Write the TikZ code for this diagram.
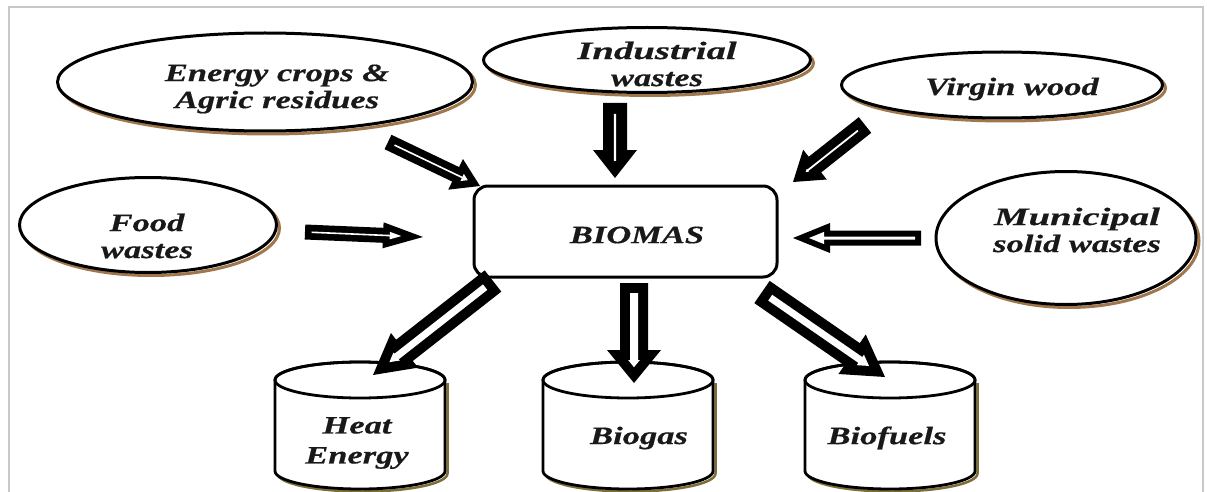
\documentclass[tikz,border=0pt]{standalone}
\usepackage{fontspec}
\newfontfamily\labfont[FakeStretch=1.38,FakeBold=0.5]{Liberation Serif}
\newfontfamily\labwide[FakeStretch=1.55,FakeBold=0.5]{Liberation Serif}
\usetikzlibrary{shapes.geometric,calc}
\definecolor{shadowbrown}{RGB}{160,118,75}
\definecolor{cylshadow}{RGB}{125,110,55}
\definecolor{framegray}{RGB}{200,200,200}
\definecolor{txt}{RGB}{25,25,25}

% block arrow: #1 start coord, #2 end coord, #3 shaft half width, #4 border, #5 head half width, #6 head length
\newcommand\blockarrow[6]{%
  \pgfpointdiff{\pgfpointanchor{#1}{center}}{\pgfpointanchor{#2}{center}}%
  \pgfgetlastxy{\bdx}{\bdy}%
  \pgfmathsetmacro\bang{atan2(\bdy,\bdx)}%
  \pgfmathsetmacro\blen{veclen(\bdx,\bdy)}%
  \pgfmathsetmacro\bsw{#3}\pgfmathsetmacro\btw{#4}%
  \pgfmathsetmacro\bHw{#5}\pgfmathsetmacro\bhl{#6}%
  \pgfmathsetmacro\bsi{\bsw-\btw}%
  \pgfmathsetmacro\btip{\btw*veclen(\bhl,\bHw)/\bHw}%
  \pgfmathsetmacro\bHi{\bHw/\bhl*(\bhl-\btw-\btip)}%
  \pgfmathsetmacro\bbase{\blen-\bhl}%
  \begin{scope}[shift={(#1)},rotate=\bang]
    \fill[black] (0,\bsw) -- (\bbase,\bsw) -- (\bbase,\bHw) -- (\blen,0) -- (\bbase,-\bHw) -- (\bbase,-\bsw) -- (0,-\bsw) -- cycle;
    \fill[white] (\btw,\bsi) -- (\bbase+\btw,\bsi) -- (\bbase+\btw,\bHi) -- (\blen-\btip,0) -- (\bbase+\btw,-\bHi) -- (\bbase+\btw,-\bsi) -- (\btw,-\bsi) -- cycle;
  \end{scope}%
}

% cylinder: #1 centre x
\newcommand\drum[1]{%
  \draw[cylshadow,line width=2.5] (#1+85+2.5,-383) -- (#1+85+2.5,-473.5) arc[start angle=0,end angle=-180,x radius=85,y radius=18];
  \filldraw[fill=white,draw=black,line width=2.8] (#1-85,-380) -- (#1-85,-471) arc[start angle=180,end angle=360,x radius=85,y radius=18] -- (#1+85,-380) arc[start angle=0,end angle=180,x radius=85,y radius=18] -- cycle;
  \draw[black,line width=2.8] (#1,-380) ellipse[x radius=85,y radius=18];
}

\tikzset{
  src/.style={ellipse,draw=black,line width=3,fill=white,inner sep=0pt},
  srcshadow/.style={ellipse,draw=shadowbrown,line width=3,inner sep=0pt},
  lab/.style={font=\labfont\bfseries\itshape\fontsize{25}{27}\selectfont,text=txt,align=center,inner sep=0pt},
  hub/.style={draw=black,line width=3,fill=white,rounded corners=14,inner sep=0pt}
}

\begin{document}
\begin{tikzpicture}[x=1pt,y=1pt]
\useasboundingbox (0,0) rectangle (1207,-492);
\fill[white] (0,0) rectangle (1207,-492);
\draw[framegray,line width=2] (9,-492) -- (9,-7) -- (1203,-7) -- (1203,-492);

% source ellipses (shadow + body)
\node[srcshadow,minimum width=415,minimum height=98] (e1s) at (268,-85) {};
\node[src,minimum width=415,minimum height=98] (e1) at (265,-82) {};
\node[srcshadow,minimum width=327,minimum height=65] (e2s) at (650,-63) {};
\node[src,minimum width=327,minimum height=65] (e2) at (647,-60) {};
\node[srcshadow,minimum width=321,minimum height=66] (e3s) at (1005,-88) {};
\node[src,minimum width=321,minimum height=66] (e3) at (1002,-85) {};
\node[srcshadow,minimum width=257,minimum height=95] (e4s) at (151,-228) {};
\node[src,minimum width=257,minimum height=95] (e4) at (148,-225) {};
\node[srcshadow,minimum width=260,minimum height=133] (e5s) at (1069,-241) {};
\node[src,minimum width=260,minimum height=133] (e5) at (1066,-238) {};

\node[lab] (t1) at (277,-89) {Energy crops \&\\Agric residues};
\node[lab] (t2) at (657,-64) {{\labwide\bfseries\itshape\fontsize{25}{27}\selectfont Industrial}\\wastes};
\node[lab] (t3) at (1012,-89) {Virgin wood};
\node[lab] (t4) at (147,-236) {Food\\wastes};
\node[lab] (t5) at (1077,-230) {{\labwide\bfseries\itshape\fontsize{25}{27}\selectfont Municipal}\\solid wastes};

% central box
\node[hub,minimum width=303,minimum height=91] (bio) at (625.5,-231.5) {};
\node[lab] (tbio) at (637,-235) {BIOMAS};

% product cylinders
\drum{360}
\drum{628}
\drum{890}
\node[lab,font=\labfont\bfseries\itshape\fontsize{25}{30}\selectfont] (p1) at (357,-443) {Heat\\Energy};
\node[lab] (p2) at (639,-438) {Biogas};
\node[lab] (p3) at (887,-438) {Biofuels};

% arrow end points
\coordinate (a1s) at (388,-142); \coordinate (a1e) at (480,-186);
\coordinate (a2s) at (615,-103); \coordinate (a2e) at (615,-178);
\coordinate (a3s) at (865,-125); \coordinate (a3e) at (793,-182);
\coordinate (a4s) at (305,-232); \coordinate (a4e) at (423,-237);
\coordinate (a5s) at (921,-238); \coordinate (a5e) at (793,-238);
\coordinate (a6s) at (493,-281); \coordinate (a6e) at (373,-375);
\coordinate (a7s) at (634,-283); \coordinate (a7e) at (634,-383);
\coordinate (a8s) at (762,-292); \coordinate (a8e) at (885,-377);

\blockarrow{a1s}{a1e}{8}{7.2}{17}{27}
\blockarrow{a2s}{a2e}{12}{10.9}{22}{28}
\blockarrow{a3s}{a3e}{10}{9.1}{19}{28}
\blockarrow{a4s}{a4e}{7.5}{6.7}{13}{40}
\blockarrow{a5s}{a5e}{7.5}{6}{15}{37}
\blockarrow{a6s}{a6e}{13.5}{10}{22}{40}
\blockarrow{a7s}{a7e}{14}{10}{27}{33}
\blockarrow{a8s}{a8e}{13.5}{10}{24}{40}
\end{tikzpicture}
\end{document}
